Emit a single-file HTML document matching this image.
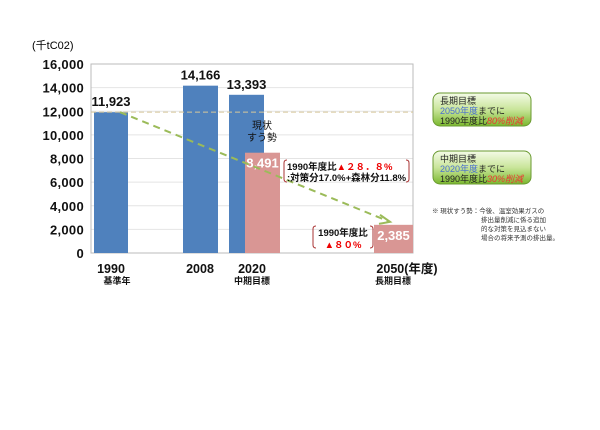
<!DOCTYPE html>
<html><head><meta charset="utf-8"><style>
body{margin:0;background:#fff;}
svg text{font-family:"Liberation Sans","Noto Sans CJK JP",sans-serif;}
</style></head><body>
<svg width="600" height="425" viewBox="0 0 600 425" xmlns="http://www.w3.org/2000/svg">
<g id="grid"></g>
<rect x="91" y="64" width="322" height="189" fill="none" stroke="#bbb" stroke-width="1"/>
<g id="bars"></g>
<g id="yt"></g>
<text x="32" y="49" font-size="11">(千tC02)</text>
<g id="xt"></g>
<text x="262" y="129" font-size="10" text-anchor="middle" fill="#111">現状</text>
<text x="262" y="141" font-size="10" text-anchor="middle" fill="#111">すう勢</text>
<g>
<path d="M287,160 q-3,0 -3,3 v16 q0,3 3,3" fill="none" stroke="#a33"/>
<path d="M406,160 q3,0 3,3 v16 q0,3 -3,3" fill="none" stroke="#a33"/>
<text x="287" y="170" font-size="9.5" fill="#111" font-weight="bold">1990年度比<tspan fill="#e00">▲２８．８%</tspan></text>
<text x="287" y="181" font-size="9.5" fill="#111" font-weight="bold">:対策分17.0%+森林分11.8%</text>
</g>
<g>
<path d="M316,226 q-3,0 -3,3 v16 q0,3 3,3" fill="none" stroke="#a33"/>
<path d="M370,226 q3,0 3,3 v16 q0,3 -3,3" fill="none" stroke="#a33"/>
<text x="343" y="236" font-size="9.5" text-anchor="middle" fill="#111" font-weight="bold">1990年度比</text>
<text x="343" y="248" font-size="9.5" text-anchor="middle" fill="#e00" font-weight="bold">▲８０%</text>
</g>
<defs>
<linearGradient id="gg" x1="0" y1="0" x2="0" y2="1"><stop offset="0" stop-color="#f4fbe8"/><stop offset="0.5" stop-color="#c9e59a"/><stop offset="1" stop-color="#7bb82e"/></linearGradient>
</defs>
<g>
<rect x="433" y="93" width="98" height="33" rx="7" fill="url(#gg)" stroke="#6a9a30"/>
<text x="440" y="104" font-size="9" fill="#222">長期目標</text>
<text x="440" y="114" font-size="9" fill="#4a6fd0">2050年度<tspan fill="#222">までに</tspan></text>
<text x="440" y="124" font-size="9" fill="#222">1990年度比<tspan fill="#e33" font-style="italic">80%削減</tspan></text>
</g>
<g>
<rect x="433" y="151" width="98" height="33" rx="7" fill="url(#gg)" stroke="#6a9a30"/>
<text x="440" y="162" font-size="9" fill="#222">中期目標</text>
<text x="440" y="172" font-size="9" fill="#4a6fd0">2020年度<tspan fill="#222">までに</tspan></text>
<text x="440" y="182" font-size="9" fill="#222">1990年度比<tspan fill="#e33" font-style="italic">30%削減</tspan></text>
</g>
<g font-size="6.5" fill="#333">
<text x="432" y="213">※ 現状すう勢：今後、温室効果ガスの</text>
<text x="481" y="222">排出量削減に係る追加</text>
<text x="481" y="231">的な対策を見込まない</text>
<text x="481" y="240">場合の将来予測の排出量。</text>
</g>
<script>
const categories=["1990","2008","2020","2020","2050"];
const values=[11923,14166,13393,8491,2385];
const labels=["11,923","14,166","13,393","8,491","2,385"];
const yTicks=[0,2000,4000,6000,8000,10000,12000,14000,16000];
const yTickLabels=["0","2,000","4,000","6,000","8,000","10,000","12,000","14,000","16,000"];
const xLabels=["1990","2008","2020","2050(年度)"];
const xSub=["基準年","","中期目標","長期目標"];
const NS="http://www.w3.org/2000/svg";
const y0=253,yTop=64,ymax=16000;
function ys(v){return y0-(v/ymax)*(y0-yTop);}
const barX=[94,183,229,245,374];
const barW=[34,35,35,35,39];
const barC=["#4f81bd","#4f81bd","#4f81bd","#d99694","#d99694"];
function mk(t,a,p){const e=document.createElementNS(NS,t);for(const k in a)e.setAttribute(k,a[k]);p.appendChild(e);return e;}
const grid=document.getElementById('grid'),yt=document.getElementById('yt'),bars=document.getElementById('bars'),xt=document.getElementById('xt');
yTicks.forEach((v,i)=>{
 const l=mk('line',{x1:91,x2:413,y1:ys(v),y2:ys(v),stroke:'#e4e4e4'},grid);
 
 
 const t=mk('text',{x:84,y:ys(v)+5,'font-size':13,'font-weight':'bold','letter-spacing':'0.3','text-anchor':'end',fill:'#111'},yt);
 t.textContent=yTickLabels[i];
 
 
});
values.forEach((v,i)=>{
 const r=mk('rect',{x:barX[i],y:ys(v),width:barW[i],height:y0-ys(v),fill:barC[i]},bars);
 
 
 let t;
 if(i>=3){t=mk('text',{x:barX[i]+barW[i]/2,y:ys(v)+15,'font-size':13,'font-weight':'bold','text-anchor':'middle',fill:'#fff'},bars);}
 else{t=mk('text',{x:barX[i]+barW[i]/2,y:ys(v)-6,'font-size':13,'font-weight':'bold','text-anchor':'middle',fill:'#111'},bars);}
 t.textContent=labels[i];
 
 
});
const ref=mk('line',{x1:91,x2:413,y1:ys(values[0]),y2:ys(values[0]),stroke:'#d8c89a','stroke-dasharray':'5,3'},bars);


const tr=mk('path',{d:`M120,${ys(values[0])} L390,${ys(values[4])-3}`,stroke:'#9bbb59','stroke-width':2,'stroke-dasharray':'7,5',fill:'none'},bars);


const ah=mk('path',{d:`M380,${ys(values[4])-10} L390,${ys(values[4])-3} L379,${ys(values[4])-1}`,stroke:'#9bbb59','stroke-width':2,fill:'none'},bars);


const xp=[111,200,252,393];
xLabels.forEach((s,i)=>{
 const t=mk('text',{x:xp[i]+(i==3?14:0),y:273,'font-size':12.5,'font-weight':'bold','text-anchor':'middle',fill:'#111'},xt);
 t.textContent=s;
 
 
 if(xSub[i]){const u=mk('text',{x:xp[i]+(i==0?6:0),y:284,'font-size':9,'font-weight':'bold','text-anchor':'middle',fill:'#111'},xt);
 u.textContent=xSub[i];
 
 }
});
</script>
</svg>
</body></html>
